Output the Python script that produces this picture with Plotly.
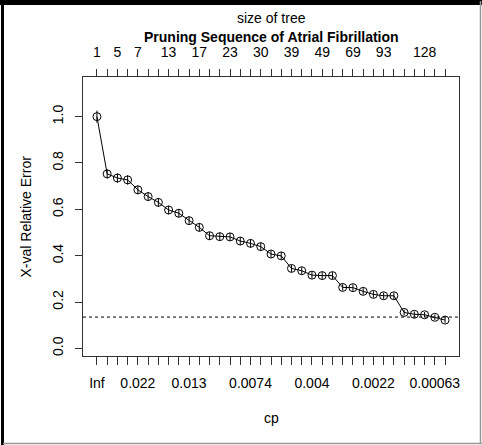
import plotly.graph_objects as go

# ---- data ----
xerror = [1.0, 0.753, 0.735, 0.727, 0.684, 0.655, 0.630, 0.597, 0.583, 0.551,
          0.522, 0.486, 0.482, 0.481, 0.463, 0.453, 0.439, 0.407, 0.399, 0.345,
          0.335, 0.316, 0.314, 0.314, 0.263, 0.262, 0.246, 0.233, 0.227, 0.227,
          0.155, 0.147, 0.145, 0.134, 0.122]
xstd = [0.026, 0.020, 0.020, 0.020, 0.019, 0.019, 0.019, 0.018, 0.018, 0.018,
        0.018, 0.017, 0.017, 0.017, 0.017, 0.017, 0.017, 0.016, 0.016, 0.015,
        0.015, 0.015, 0.015, 0.015, 0.014, 0.014, 0.014, 0.014, 0.014, 0.014,
        0.012, 0.012, 0.012, 0.012, 0.012]
threshold = 0.135

cp_label_idx = [0, 4, 9, 15, 21, 27, 33]
cp_labels = ["Inf", "0.022", "0.013", "0.0074", "0.004", "0.0022", "0.00063"]
size_label_idx = [0, 2, 4, 7, 10, 13, 16, 19, 22, 25, 28, 32]
size_labels = ["1", "5", "7", "13", "17", "23", "30", "39", "49", "69", "93", "128"]

y_ticks = [0.0, 0.2, 0.4, 0.6, 0.8, 1.0]

n = len(xerror)
x = list(range(n))
bottom_text = [""] * n
for i, t in zip(cp_label_idx, cp_labels):
    bottom_text[i] = t
top_text = [""] * n
for i, t in zip(size_label_idx, size_labels):
    top_text[i] = t

FONT = "Liberation Sans, Arial, Helvetica, sans-serif"
pad = 0.04 * (n - 1)
xr = [-pad, (n - 1) + pad]
yr = [-0.033, 1.171]

fig = go.Figure()
fig.add_trace(go.Scatter(
    x=x, y=xerror, mode="lines+markers",
    line=dict(color="black", width=1),
    marker=dict(symbol="circle-open", size=8, color="black", line=dict(width=1)),
    error_y=dict(type="data", array=xstd, visible=True, thickness=1, width=0, color="black"),
    showlegend=False, hoverinfo="skip"))
fig.add_trace(go.Scatter(x=[x[0]], y=[xerror[0]], xaxis="x2", mode="markers",
                         marker=dict(opacity=0), showlegend=False, hoverinfo="skip"))

fig.add_shape(type="line", xref="paper", yref="y", x0=0, x1=1, y0=threshold, y1=threshold,
              line=dict(color="black", width=1, dash="dot"))

# outer frame of the picture
W, H = 482, 445
L, R, T, B = 83, 459, 77, 356
def px(v):
    return (v - L) / (R - L)
def py(v):
    return (B - v) / (B - T)
fig.add_shape(type="line", xref="paper", yref="paper", x0=px(0), x1=px(482), y0=py(2.5), y1=py(2.5),
              line=dict(color="black", width=5), layer="above")
fig.add_shape(type="line", xref="paper", yref="paper", x0=px(2.5), x1=px(2.5), y0=py(1), y1=py(445),
              line=dict(color="black", width=3), layer="above")
fig.add_shape(type="line", xref="paper", yref="paper", x0=px(3), x1=px(482), y0=py(443.5), y1=py(443.5),
              line=dict(color="#999999", width=1.5))
fig.add_shape(type="line", xref="paper", yref="paper", x0=px(480.5), x1=px(480.5), y0=py(1), y1=py(444),
              line=dict(color="#999999", width=1.5))

fig.add_annotation(text="size of tree", xref="paper", yref="paper", x=0.5, y=py(18),
                   showarrow=False, font=dict(size=14, color="black", family=FONT),
                   xanchor="center", yanchor="middle")
fig.add_annotation(text="<b>Pruning Sequence of Atrial Fibrillation</b>", xref="paper", yref="paper",
                   x=0.5, y=py(37), showarrow=False, font=dict(size=14, color="black", family=FONT),
                   xanchor="center", yanchor="middle")
fig.add_annotation(text="cp", xref="paper", yref="paper", x=0.5, y=py(418),
                   showarrow=False, font=dict(size=14, color="black", family=FONT),
                   xanchor="center", yanchor="middle")
fig.add_annotation(text="X-val Relative Error", xref="paper", yref="paper", x=px(25), y=0.5,
                   textangle=-90, showarrow=False, font=dict(size=14, color="black", family=FONT),
                   xanchor="center", yanchor="middle")

axis_common = dict(showgrid=False, zeroline=False, ticks="outside", tickcolor="#333333",
                   tickwidth=1, tickfont=dict(size=14, color="black", family=FONT))
fig.update_layout(
    width=W, height=H, margin=dict(l=L, r=W - R, t=T, b=H - B),
    paper_bgcolor="white", plot_bgcolor="white",
    xaxis=dict(range=xr, tickmode="array", tickvals=x, ticktext=bottom_text, ticklen=8,
               showline=True, linecolor="#333333", linewidth=1, mirror=True,
               ticklabelstandoff=6, **axis_common),
    xaxis2=dict(range=xr, overlaying="x", side="top", tickmode="array", tickvals=x,
                ticktext=top_text, ticklen=7, showline=False, ticklabelstandoff=6, **axis_common),
    yaxis=dict(range=yr, tickmode="array", tickvals=y_ticks, tickformat=".1f", ticklen=7,
               tickangle=-90, showline=True, linecolor="#333333", linewidth=1, mirror=True,
               ticklabelstandoff=6, **axis_common),
)
fig.write_html("out.html")
